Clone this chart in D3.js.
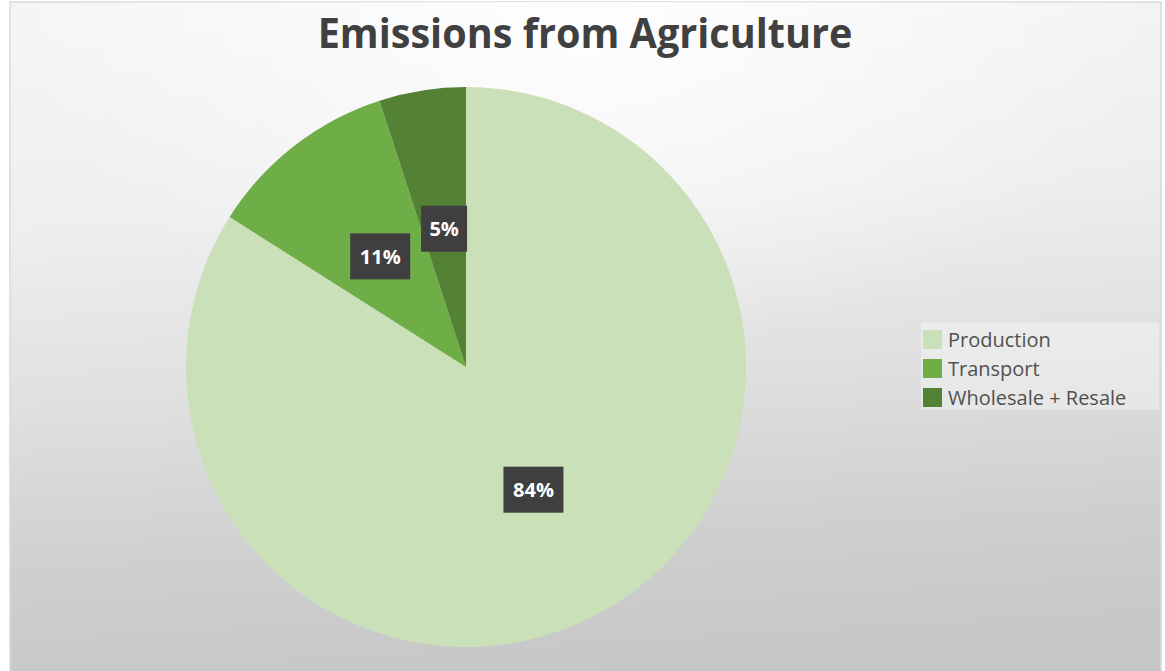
<!DOCTYPE html>
<html><head><meta charset="utf-8">
<script src="https://cdn.jsdelivr.net/npm/d3@7"></script>
<style>html,body{margin:0;padding:0;background:#fff;}svg{display:block;}</style>
</head><body>
<svg id="chart" width="1165" height="671"></svg>
<script>
const categories = ["Production", "Transport", "Wholesale + Resale"];
const values = [84, 11, 5];
const labels = ["84%", "11%", "5%"];
const colors = ["#c9e0b8", "#6fad47", "#548235"];
const title = "Emissions from Agriculture";

const svg = d3.select("#chart");
const defs = svg.append("defs");
const grad = defs.append("linearGradient").attr("id","bg").attr("x1","0.45").attr("y1","0").attr("x2","0.55").attr("y2","1");
[[0,"#f5f5f5"],[0.3,"#eeeeee"],[0.55,"#e0e0e0"],[0.8,"#cfcfcf"],[1,"#c6c6c6"]].forEach(s=>grad.append("stop").attr("offset",s[0]).attr("stop-color",s[1]));
const rg = defs.append("radialGradient").attr("id","glow").attr("cx","0.5").attr("cy","0.02").attr("r","0.5");
rg.append("stop").attr("offset",0).attr("stop-color","#ffffff").attr("stop-opacity",0.9);
rg.append("stop").attr("offset",1).attr("stop-color","#ffffff").attr("stop-opacity",0);

svg.append("rect").attr("x",10).attr("y",2).attr("width",1151).attr("height",672).attr("fill","url(#bg)").attr("stroke","#d9d9d9").attr("stroke-width",1.5);
svg.append("rect").attr("x",10).attr("y",2).attr("width",1151).attr("height",672).attr("fill","url(#glow)");

// title
const t = svg.append("text").attr("x",585).attr("y",48).attr("text-anchor","middle")
  .attr("font-family","Open Sans, sans-serif").attr("font-weight",700).attr("font-size",42)
  .attr("fill","#404040").text(title);
const tw = t.node().getComputedTextLength();
const sx = 535/tw;
t.attr("transform",`translate(585,0) scale(${sx},1) translate(-585,0)`);

// pie
const cx = 466, cy = 367, R = 280;
const pie = d3.pie().sort(null).value(d=>d)(values);
const arc = d3.arc().innerRadius(0).outerRadius(R);
const g = svg.append("g").attr("transform",`translate(${cx},${cy})`);
g.selectAll("path").data(pie).join("path").attr("d",arc).attr("fill",(d,i)=>colors[i]);

// data labels at half radius along each slice's mid angle
const labelArc = d3.arc().innerRadius(R*0.5).outerRadius(R*0.5);
const boxW = [60,60,46], boxH = 46;
const lg = g.selectAll("g.lbl").data(pie).join("g").attr("class","lbl")
  .attr("transform",d=>`translate(${labelArc.centroid(d)})`);
lg.append("rect").attr("x",(d,i)=>-boxW[i]/2).attr("y",-boxH/2).attr("width",(d,i)=>boxW[i]).attr("height",boxH).attr("fill","#3f3f3f");
lg.append("text").attr("text-anchor","middle").attr("dy","0.36em")
  .attr("font-family","Open Sans, sans-serif").attr("font-weight",700).attr("font-size",20)
  .attr("fill","#ffffff").text((d,i)=>labels[i]);

// legend
const lgX = 923, lgY = 323;
svg.append("rect").attr("x",lgX-2).attr("y",lgY).attr("width",238).attr("height",87).attr("fill","#ffffff").attr("opacity",0.35);
const leg = svg.selectAll("g.leg").data(categories).join("g").attr("class","leg")
  .attr("transform",(d,i)=>`translate(${lgX},${lgY+7+i*29})`);
leg.append("rect").attr("width",19).attr("height",19).attr("fill",(d,i)=>colors[i]);
leg.append("text").attr("x",25).attr("y",10).attr("dy","0.36em")
  .attr("font-family","Open Sans, sans-serif").attr("font-size",20).attr("fill","#505050").text(d=>d);
</script>
</body></html>
